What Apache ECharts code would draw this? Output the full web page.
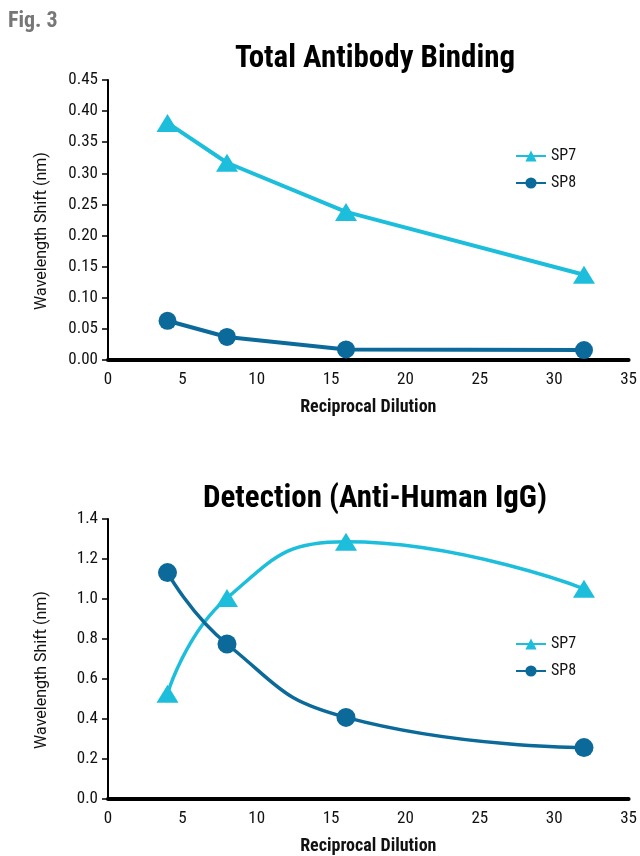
<!DOCTYPE html>
<html><head><meta charset="utf-8">
<script src="https://cdn.jsdelivr.net/npm/echarts@6/dist/echarts.min.js"></script>
<style>html,body{margin:0;padding:0;background:#fff}#c{width:640px;height:856px}</style>
</head><body><div id="c"></div>
<script>
const dilution = [4, 8, 16, 32];
const totalSP7 = [0.381, 0.317, 0.238, 0.137];
const totalSP8 = [0.063, 0.037, 0.017, 0.016];
const detectSP7 = [0.526, 1.005, 1.286, 1.051];
const detectSP8 = [1.132, 0.775, 0.408, 0.257];
const seriesNames = ['SP7', 'SP8'];
const titles = ['Total Antibody Binding', 'Detection (Anti-Human IgG)'];
const xName = 'Reciprocal Dilution';
const yName = 'Wavelength Shift (nm)';

const FONT = "'Roboto Condensed','Liberation Sans Narrow','DejaVu Sans Condensed',Roboto,sans-serif";
const C7 = '#1dbedc', C8 = '#0b6a99';
const pairs = (xs, ys) => xs.map((x, i) => [x, ys[i]]);

function xAxis(gi) {
  return {
    gridIndex: gi, type: 'value', min: 0, max: 35, interval: 5,
    name: xName, nameLocation: 'middle', nameGap: 38,
    nameTextStyle: { fontFamily: FONT, fontSize: 18, fontWeight: 'bold', color: '#111' },
    axisLine: { show: true, lineStyle: { color: '#000', width: 4 } },
    axisTick: { show: false },
    axisLabel: { fontFamily: FONT, fontSize: 17, color: '#111', margin: 11 },
    splitLine: { show: false }
  };
}
function yAxis(gi, max, interval, dec) {
  return {
    gridIndex: gi, type: 'value', min: 0, max: max, interval: interval,
    name: yName, nameLocation: 'middle', nameGap: 58,
    nameTextStyle: { fontFamily: 'Roboto, sans-serif', fontSize: 16, color: '#111', padding: [0, 22, 0, 0] },
    axisLine: { show: true, lineStyle: { color: '#000', width: 2 } },
    axisTick: { show: true, length: 6, lineStyle: { color: '#000', width: 1.5 } },
    axisLabel: { fontFamily: FONT, fontSize: 17, color: '#111', margin: 10, formatter: v => v.toFixed(dec) },
    splitLine: { show: false }
  };
}
function line(name, gi, data, color, symbol, size, smooth, width) {
  return {
    name: name, type: 'line', xAxisIndex: gi, yAxisIndex: gi,
    data: data, smooth: smooth, symbol: symbol, symbolSize: size,
    lineStyle: { color: color, width: width }, itemStyle: { color: color },
    z: name === 'SP7' ? 3 : 4
  };
}
function legend(top) {
  return {
    orient: 'vertical', left: 510, top: top, itemWidth: 30, itemHeight: 14, itemGap: 11,
    data: seriesNames,
    textStyle: { fontFamily: FONT, fontSize: 16, color: '#111' }
  };
}

const chart = echarts.init(document.getElementById('c'), null, { renderer: 'canvas' });
chart.setOption({
  animation: false,
  backgroundColor: '#fff',
  title: [
    { text: 'Fig. 3', left: 3, top: 5, textStyle: { fontFamily: FONT, fontSize: 22, fontWeight: 'bold', color: '#777' } },
    { text: titles[0], left: 370, top: 39, textAlign: 'center', textStyle: { fontFamily: FONT, fontSize: 31, fontWeight: 'bold', color: '#000' } },
    { text: titles[1], left: 370, top: 479, textAlign: 'center', textStyle: { fontFamily: FONT, fontSize: 31, fontWeight: 'bold', color: '#000' } }
  ],
  legend: [legend(143), legend(631)],
  grid: [
    { left: 108, right: 11, top: 80, height: 280 },
    { left: 108, right: 11, top: 519, height: 286 }
  ],
  xAxis: [xAxis(0), xAxis(1)],
  yAxis: [yAxis(0, 0.45, 0.05, 2), yAxis(1, 1.4, 0.2, 1)],
  series: [
    line(seriesNames[0], 0, pairs(dilution, totalSP7), C7, 'triangle', [22, 18], false, 4),
    line(seriesNames[1], 0, pairs(dilution, totalSP8), C8, 'circle', 18, false, 4),
    line(seriesNames[0], 1, pairs(dilution, detectSP7), C7, 'triangle', [22, 18], 0.5, 3.5),
    line(seriesNames[1], 1, pairs(dilution, detectSP8), C8, 'circle', 19, 0.5, 3.5)
  ]
});
</script></body></html>
